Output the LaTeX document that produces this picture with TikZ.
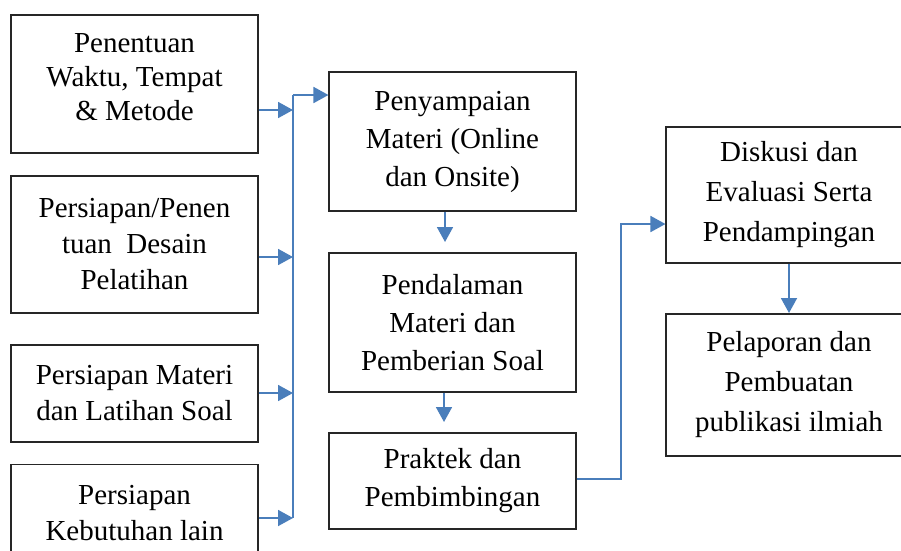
\documentclass[tikz,border=0pt]{standalone}
\usepackage{fontspec}
\setmainfont{Liberation Serif}
\usetikzlibrary{arrows.meta,calc}
\definecolor{flow}{RGB}{74,126,187}
\begin{document}
\begin{tikzpicture}[x=1pt,y=-1pt,
 box/.style={draw=black!85,line width=1.1pt,inner sep=0pt,align=center,rectangle},
 ltxt/.style={font=\fontsize{29}{36}\selectfont},
 mtxt/.style={font=\fontsize{29}{38}\selectfont},
 rtxt/.style={font=\fontsize{29}{40}\selectfont},
 arr/.style={draw=flow,line width=1.8pt,-{Triangle[length=15pt,width=16pt]}},
 ln/.style={draw=flow,line width=1.8pt}]
\useasboundingbox (0,0) rectangle (901,550);
\begin{scope}
\clip (0,0) rectangle (901,550);
% left column
\node[box,minimum width=247pt,minimum height=138pt] (b1) at (134.5,84) {};
\node[align=center,inner sep=0pt,font=\fontsize{29}{34}\selectfont] (b1t) at (134.5,77) {Penentuan\\Waktu, Tempat\\\& Metode};
\node[box,ltxt,minimum width=247pt,minimum height=137pt] (b2) at (134.5,244.5) {Persiapan/Penen\\tuan\ \ Desain\\Pelatihan};
\node[box,ltxt,minimum width=247pt,minimum height=97pt] (b3) at (134.5,393.5) {Persiapan Materi\\dan Latihan Soal};
\node[box,ltxt,minimum width=247pt,minimum height=98pt] (b4) at (134.5,513.5) {Persiapan\\Kebutuhan lain};
% middle column
\node[box,mtxt,minimum width=247pt,minimum height=139pt] (m1) at (452.5,141.5) {Penyampaian\\Materi (Online\\dan Onsite)};
\node[box,mtxt,minimum width=247pt,minimum height=139pt] (m2) at (452.5,322.5) {Pendalaman\\Materi dan\\Pemberian Soal};
\node[box,mtxt,minimum width=247pt,minimum height=96pt] (m3) at (452.5,481) {Praktek dan\\Pembimbingan};
% right column
\node[box,rtxt,minimum width=246pt,minimum height=136pt] (r1) at (789,195) {Diskusi dan\\Evaluasi Serta\\Pendampingan};
\node[box,rtxt,minimum width=246pt,minimum height=142pt] (r2) at (789,385) {Pelaporan dan\\Pembuatan\\publikasi ilmiah};
% bus coordinates
\coordinate (j1) at (293,110);
\coordinate (j2) at (293,257);
\coordinate (j3) at (293,393);
\coordinate (j4) at (293,518);
\coordinate (jt) at (293,95);
\draw[arr] (b1.east |- j1) -- (j1);
\draw[arr] (b2.east |- j2) -- (j2);
\draw[arr] (b3.east |- j3) -- (j3);
\draw[arr] (b4.east |- j4) -- (j4);
\draw[ln] (j4) -- (jt);
\draw[arr] (jt) -- (m1.west |- jt);
% middle arrows
\coordinate (a1s) at (445,211);
\coordinate (a1e) at (445,242);
\draw[arr] (m1.south -| a1s) -- (a1e);
\coordinate (a2s) at (444,392);
\coordinate (a2e) at (444,422);
\draw[arr] (m2.south -| a2s) -- (a2e);
% to right column
\coordinate (k1) at (621,479);
\coordinate (k2) at (621,224);
\draw[arr] (m3.east |- k1) -- (k1) -- (k2) -- (r1.west |- k2);
\coordinate (a3s) at (789,266);
\coordinate (a3e) at (789,313);
\draw[arr] (r1.south -| a3s) -- (a3e);
\end{scope}
\end{tikzpicture}
\end{document}
